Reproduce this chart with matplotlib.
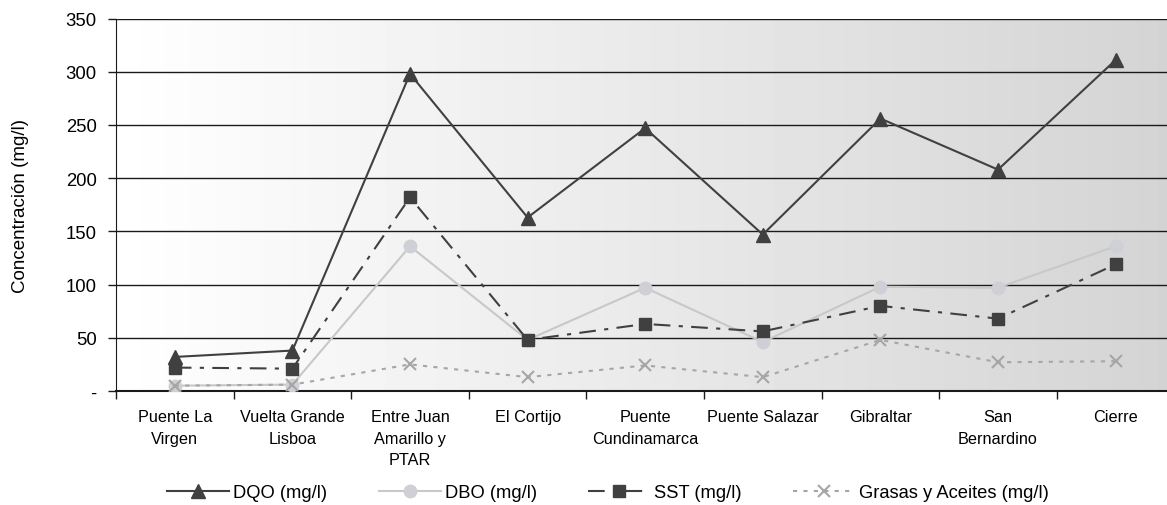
import numpy as np
import matplotlib.pyplot as plt
from matplotlib.ticker import FixedLocator, FixedFormatter

plt.rcParams['font.family'] = ['Liberation Sans', 'DejaVu Sans']

# sampling points along the river
sitios = ["Puente La\nVirgen", "Vuelta Grande\nLisboa", "Entre Juan\nAmarillo y\nPTAR",
          "El Cortijo", "Puente\nCundinamarca", "Puente Salazar", "Gibraltar",
          "San\nBernardino", "Cierre"]

dqo = [32, 38, 298, 163, 247, 147, 256, 208, 311]
dbo = [5, 6, 136, 48, 97, 46, 98, 97, 136]
sst = [22, 21, 182, 48, 63, 56, 80, 68, 119]
grasas = [5, 6, 25, 13, 24, 13, 48, 27, 28]

x = np.arange(len(sitios))

fig = plt.figure(figsize=(11.67, 5.06), dpi=100)
# axes runs a bit past the right edge, like the original crop
ax = fig.add_axes([116/1167, 1-392/506, (9*117.6)/1167, (392-19.5)/506])

# grey gradient background (white on the left -> grey on the right)
grad = np.linspace(1.0, 0.83, 256).reshape(1, -1)
ax.imshow(grad, cmap='gray', vmin=0, vmax=1, aspect='auto',
          extent=[-0.5, 8.5, 0, 350], zorder=0)

for yv in range(50, 351, 50):
    ax.axhline(yv, color='#1a1a1a', lw=1.0, zorder=1)

ax.plot(x, dqo, color='#404040', lw=1.5, marker='^', ms=10, zorder=3, label='DQO (mg/l)')
ax.plot(x, dbo, color='#c8c8c8', lw=1.5, marker='o', ms=9, mfc='#cfcfd6', mec='#cfcfd6',
        zorder=3, label='DBO (mg/l)')
ax.plot(x, sst, color='#404040', lw=1.5, marker='s', ms=8, dashes=(8, 4, 2, 4),
        zorder=3, label='SST (mg/l)')
ax.plot(x, grasas, color='#a6a6a6', lw=1.5, marker='x', ms=9, mew=1.5, dashes=(2, 3),
        zorder=3, label='Grasas y Aceites (mg/l)')

ax.set_xlim(-0.5, 8.5)
ax.set_ylim(0, 350)
ax.set_yticks(range(0, 351, 50))
ax.set_yticklabels(['-'] + [str(v) for v in range(50, 351, 50)])
ax.set_ylabel('Concentración (mg/l)', fontsize=13.5, labelpad=26)

# ticks on the borders between sites, labels in the middle
ax.xaxis.set_major_locator(FixedLocator(np.arange(-0.5, 9, 1)))
ax.xaxis.set_major_formatter(FixedFormatter([''] * 10))
ax.xaxis.set_minor_locator(FixedLocator(x))
ax.xaxis.set_minor_formatter(FixedFormatter(sitios))
ax.tick_params(axis='x', which='major', length=6, width=1, color='#1a1a1a', direction='out')
ax.tick_params(axis='x', which='minor', length=0, labelsize=11.7, pad=13)
ax.tick_params(axis='y', length=6, width=1, color='#1a1a1a', labelsize=13.3, pad=8)

for s in ['top', 'right']:
    ax.spines[s].set_visible(False)
ax.spines['left'].set_color('#1a1a1a')
ax.spines['bottom'].set_color('#1a1a1a')
ax.spines['bottom'].set_linewidth(1.5)

fig.legend(loc='center', bbox_to_anchor=(608/1167, 1-494/506), ncol=4, frameon=False,
           fontsize=13.2, handlelength=3.4, handletextpad=0.2, columnspacing=2.8)

# wider line spacing on the site names (needs the ticks to exist first)
fig.canvas.draw()
for t in ax.xaxis.get_minor_ticks():
    t.label1.set_linespacing(1.55)

fig.savefig('out.png', dpi=100)
